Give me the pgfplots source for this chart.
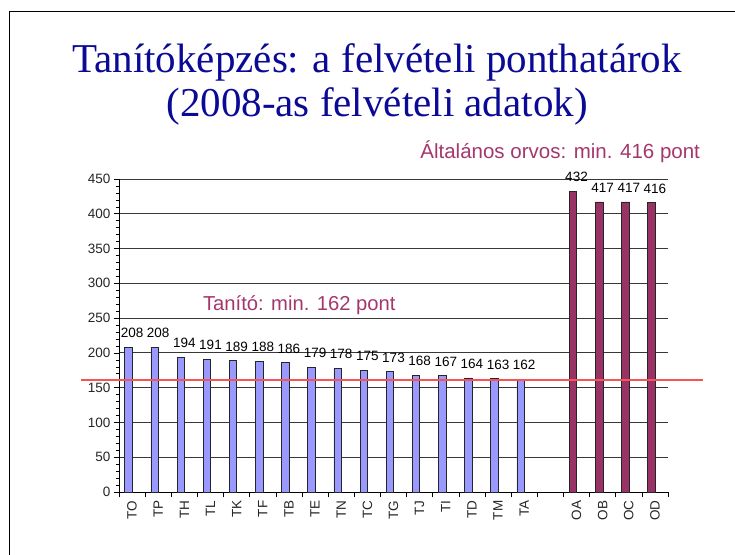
\documentclass[border=0pt]{standalone}
\usepackage{fontspec}
\setmainfont{Liberation Sans}
\newfontfamily\titlefont{Liberation Serif}
\usepackage{pgfplots}
\pgfplotsset{compat=1.18}
\definecolor{barblue}{RGB}{153,153,255}
\definecolor{barpurple}{RGB}{153,51,102}
\definecolor{annot}{RGB}{165,55,110}
\definecolor{titleblue}{RGB}{10,10,150}
\definecolor{redline}{RGB}{245,85,85}
\begin{document}
\begin{tikzpicture}[x=1pt,y=1pt]
\fill[white] (0,0) rectangle (735,554);
\begin{scope}
\clip (0,0) rectangle (735,554);
\draw[line width=1.5pt] (9.5,-20) rectangle (760,542.5);
\end{scope}
\node[text=titleblue, font=\titlefont\fontsize{41}{45}\selectfont, anchor=base, inner sep=0pt] at (377,481) {Tanítóképzés: a felvételi ponthatárok};
\node[text=titleblue, font=\titlefont\fontsize{41}{45}\selectfont, anchor=base, inner sep=0pt] at (377,437) {(2008-as felvételi adatok)};
\begin{axis}[
  at={(119pt,62pt)}, anchor=south west,
  scale only axis, width=549pt, height=313pt,
  xmin=-0.5, xmax=20.5, ymin=0, ymax=450,
  clip=false,
  axis x line*=bottom, axis y line*=left,
  axis line style={black, line width=0.8pt},
  ytick={0,50,...,450}, minor y tick num=4,
  ymajorgrids, major grid style={black!78, line width=0.9pt},
  xtick={-0.5,0.5,...,20.5}, xticklabels={},
  tick align=outside, major tick length=5pt, minor tick length=3.5pt,
  tick style={black, line width=0.6pt},
  /pgf/number format/assume math mode=true,
  yticklabel style={font=\fontsize{13.5}{15}\selectfont, text=black!85},
  extra x ticks={0,1,2,3,4,5,6,7,8,9,10,11,12,13,14,15,17,18,19,20},
  extra x tick labels={TO,TP,TH,TL,TK,TF,TB,TE,TN,TC,TG,TJ,TI,TD,TM,TA,OA,OB,OC,OD},
  extra x tick style={tick style={draw=none}, xticklabel style={rotate=90, anchor=east, font=\fontsize{13.5}{15}\selectfont, text=black!85}},
]
\addplot[ybar, bar width=7.5pt, bar shift=-3.5pt, fill=barblue, draw=black!85, line width=0.8pt,
  nodes near coords, nodes near coords style={font=\fontsize{13.5}{15}\selectfont, anchor=south, inner sep=0pt, yshift=9pt, text=black}]
  coordinates {(0,208) (1,208) (2,194) (3,191) (4,189) (5,188) (6,186) (7,179) (8,178) (9,175) (10,173) (11,168) (12,167) (13,164) (14,163) (15,162)};
\addplot[ybar, bar width=7.5pt, bar shift=-3.5pt, fill=barpurple, draw=black!85, line width=0.8pt,
  nodes near coords, nodes near coords style={font=\fontsize{13.5}{15}\selectfont, anchor=south, inner sep=0pt, yshift=9pt, text=black}]
  coordinates {(17,432) (18,417) (19,417) (20,416)};
\addplot[redline, line width=1.8pt, forget plot] coordinates {(-1.95,161) (21.84,161)};
\node[text=annot, font=\fontsize{20.2}{24}\selectfont, anchor=base west, inner sep=0pt] at (axis cs:2.71,261.6) {Tanító: min. 162 pont};
\node[text=annot, font=\fontsize{20.5}{24}\selectfont, anchor=base east, inner sep=0pt] at (axis cs:21.73,480) {Általános orvos: min. 416 pont};
\end{axis}
\pgfresetboundingbox
\path[use as bounding box] (0,0) rectangle (735,554);
\end{tikzpicture}
\end{document}
